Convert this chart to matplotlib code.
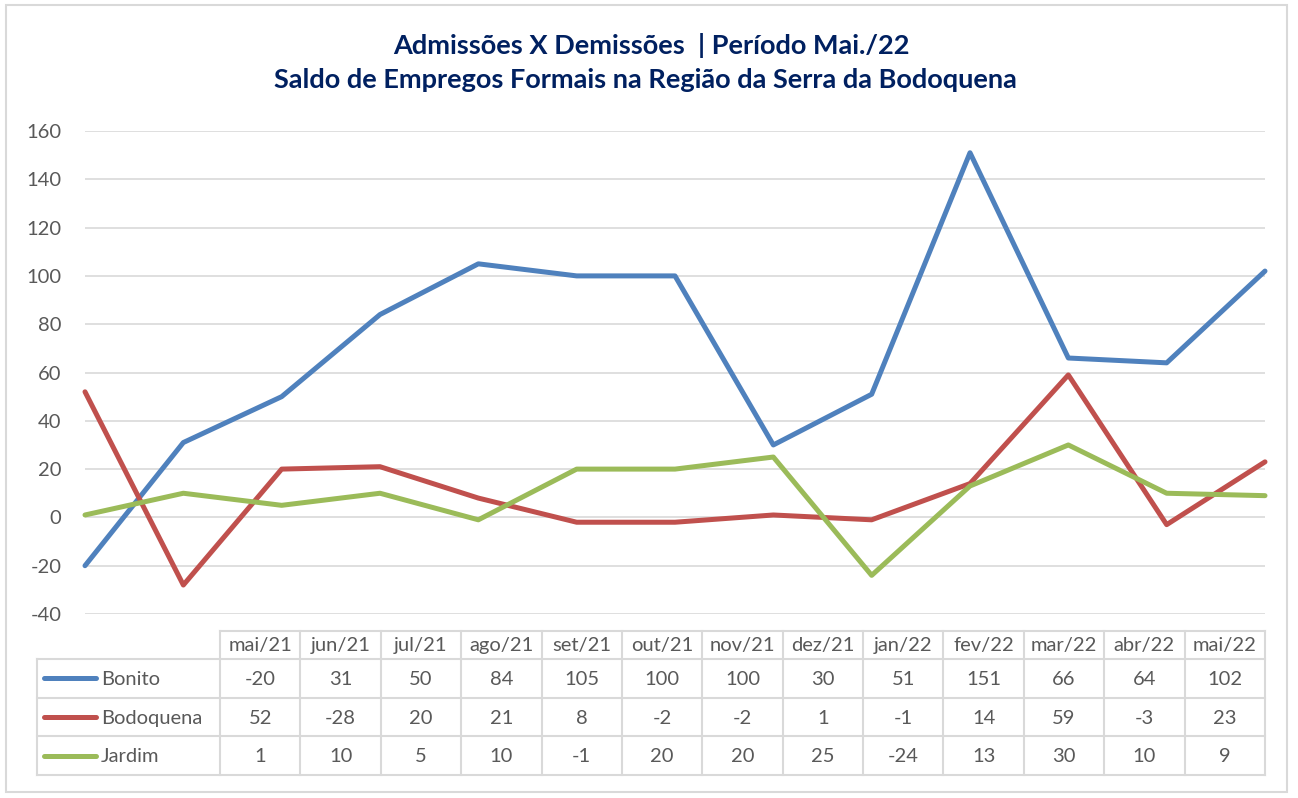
import numpy as np
import matplotlib
matplotlib.use('Agg')
import matplotlib.pyplot as plt
from matplotlib.patches import Rectangle

plt.rcParams['font.family'] = ['Lato', 'DejaVu Sans']
plt.rcParams['axes.unicode_minus'] = False

# ── data ─────────────────────────────────────────────────────────────────────
months = ["mai/21", "jun/21", "jul/21", "ago/21", "set/21", "out/21", "nov/21",
          "dez/21", "jan/22", "fev/22", "mar/22", "abr/22", "mai/22"]
bonito    = [-20, 31, 50, 84, 105, 100, 100, 30, 51, 151, 66, 64, 102]
bodoquena = [52, -28, 20, 21, 8, -2, -2, 1, -1, 14, 59, -3, 23]
jardim    = [1, 10, 5, 10, -1, 20, 20, 25, -24, 13, 30, 10, 9]

series = [("Bonito", bonito, "#4F81BD"),
          ("Bodoquena", bodoquena, "#C0504D"),
          ("Jardim", jardim, "#9BBB59")]

W, H = 1298, 798
TXT = "#595959"
GRID = "#D9D9D9"
FS = 14.5

fig = plt.figure(figsize=(W / 100, H / 100), dpi=100)

# overlay axes in pixel coords for border + data table
ov = fig.add_axes([0, 0, 1, 1])
ov.set_xlim(0, W)
ov.set_ylim(H, 0)
ov.axis('off')
ov.add_patch(Rectangle((6, 5), 1281, 787, fill=False, edgecolor=GRID, lw=1.5))

# title
ov.text(651, 45, "Admissões X Demissões  | Período Mai./22", ha='center', va='center',
        fontsize=19.5, fontweight='bold', color="#002060")
ov.text(645, 80, "Saldo de Empregos Formais na Região da Serra da Bodoquena",
        ha='center', va='center', fontsize=19.5, fontweight='bold', color="#002060")

# ── line chart ───────────────────────────────────────────────────────────────
x0, x1 = 85, 1265
y_top, y_bot = 131, 614
ax = fig.add_axes([x0 / W, 1 - y_bot / H, (x1 - x0) / W, (y_bot - y_top) / H])
x = np.arange(len(months))
for name, vals, col in series:
    ax.plot(x, vals, color=col, lw=3.6, solid_joinstyle='round',
            solid_capstyle='round', clip_on=False, zorder=3)
ax.set_xlim(0, len(months) - 1)
ax.set_ylim(-40, 160)
ax.set_yticks(np.arange(-40, 161, 20))
ax.set_xticks([])
ax.grid(axis='y', color=GRID, lw=1.2)
ax.set_axisbelow(True)
for s in ax.spines.values():
    s.set_visible(False)
ax.tick_params(axis='y', length=0, pad=17, labelsize=FS, labelcolor=TXT)

# ── data table ───────────────────────────────────────────────────────────────
lab_l, col0 = 37, 220
hdr_t, hdr_b = 631, 659
row_h = 38.7
ncol = len(months)
cw = (x1 - col0) / ncol
tb_b = hdr_b + row_h * len(series)

lk = dict(color=GRID, lw=1.5, zorder=1)
ov.plot([col0, x1], [hdr_t, hdr_t], **lk)
for i in range(ncol + 1):
    xx = col0 + i * cw
    ov.plot([xx, xx], [hdr_t, tb_b], **lk)
ov.plot([lab_l, lab_l], [hdr_b, tb_b], **lk)
for r in range(len(series) + 1):
    yy = hdr_b + r * row_h
    ov.plot([lab_l, x1], [yy, yy], **lk)

for i, m in enumerate(months):
    ov.text(col0 + (i + 0.5) * cw, (hdr_t + hdr_b) / 2 + 1, m, ha='center', va='center',
            fontsize=FS, color=TXT)

for r, (name, vals, col) in enumerate(series):
    yc = hdr_b + (r + 0.5) * row_h
    ov.plot([44, 96], [yc, yc], color=col, lw=3.6, solid_capstyle='round')
    ov.text(101, yc + 1, name, ha='left', va='center', fontsize=FS, color=TXT)
    for i, v in enumerate(vals):
        ov.text(col0 + (i + 0.5) * cw, yc + 1, str(v), ha='center', va='center',
                fontsize=FS, color=TXT)

fig.savefig("out.png", dpi=100)
